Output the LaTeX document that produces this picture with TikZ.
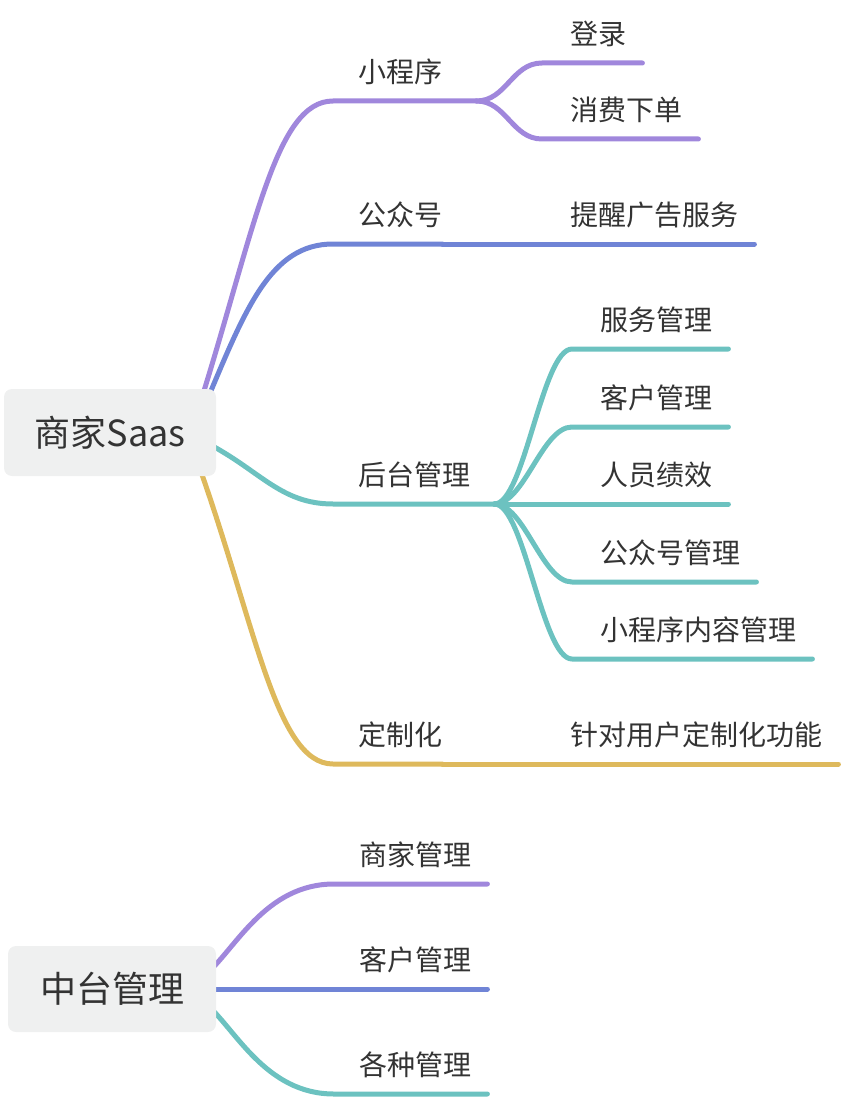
\documentclass[tikz,border=0pt]{standalone}
\usepackage{fontspec}
\setmainfont{Noto Sans CJK SC}
\usetikzlibrary{calc,backgrounds}

\definecolor{lilac}{HTML}{A087DC}
\definecolor{bluish}{HTML}{7084D6}
\definecolor{aqua}{HTML}{6CC2C0}
\definecolor{mustard}{HTML}{DEB95C}
\definecolor{rootgray}{HTML}{EFF0F0}
\definecolor{ink}{HTML}{333333}

\tikzset{
  root/.style={fill=rootgray, rounded corners=8pt, minimum width=212pt, minimum height=87pt, font=\fontsize{36}{36}\selectfont, text=ink},
  topic/.style={anchor=south west, inner xsep=0pt, inner ysep=0pt, text depth=18.4pt, font=\fontsize{28}{28}\selectfont, text=ink},
  branch/.style={line width=5pt, line cap=round},
}

\begin{document}
\begin{tikzpicture}[x=1pt, y=-1pt]
\useasboundingbox (0,0) rectangle (842,1099);

% roots
\node[root] (sjs) at (110,432.5) {商家Saas};
\node[root, minimum width=208pt, minimum height=86pt] (ztgl) at (112,989) {中台管理};

% first level
\node[topic] (xcx) at (358,101) {小程序};
\node[topic] (gzh) at (358,244) {公众号};
\node[topic] (htgl) at (358,504) {后台管理};
\node[topic] (dzh) at (358,764) {定制化};

% second level
\node[topic] (dl) at (570,63) {登录};
\node[topic] (xfxd) at (570,139) {消费下单};
\node[topic] (txgg) at (570,244) {提醒广告服务};
\node[topic] (fwgl) at (600,349) {服务管理};
\node[topic] (khgl) at (600,427) {客户管理};
\node[topic] (ryjx) at (600,504) {人员绩效};
\node[topic] (gzhgl) at (600,582) {公众号管理};
\node[topic] (xcxgl) at (600,659) {小程序内容管理};
\node[topic] (dzgn) at (570,764) {针对用户定制化功能};

% second map
\node[topic] (sjgl) at (359,884) {商家管理};
\node[topic] (khgl2) at (359,989) {客户管理};
\node[topic] (gzgl) at (359,1094) {各种管理};

\coordinate (xcx-fork) at ([xshift=34pt]xcx.south east);
\coordinate (htgl-fork) at ([xshift=24pt]htgl.south east);

\begin{scope}[on background layer]
  % 商家Saas
  \draw[branch, lilac] ($(sjs.center)+(88,-22.5)$) .. controls +(57,-180) and +(-58,0) .. ([xshift=-25pt]xcx.south west) -- (xcx-fork);
  \draw[branch, bluish] ($(sjs.center)+(95,-27.5)$) .. controls +(40,-95) and +(-63,0) .. ([xshift=-25pt]gzh.south west) -- (gzh.south east);
  \draw[branch, aqua] ($(sjs.center)+(95,9.5)$) .. controls +(55,28) and +(-53,0) .. ([xshift=-25pt]htgl.south west) -- (htgl-fork);
  \draw[branch, mustard] ($(sjs.center)+(85,22.5)$) .. controls +(60,165) and +(-58,0) .. ([xshift=-25pt]dzh.south west) -- (dzh.south east);

  \foreach \n in {dl,xfxd}
    \draw[branch, lilac] (xcx-fork) .. controls +(30,0) and +(-30,0) .. ([xshift=-28pt]\n.south west) -- ([xshift=16pt]\n.south east);
  \draw[branch, bluish] (gzh.south east) -- ([xshift=16pt]txgg.south east);
  \foreach \n in {fwgl,khgl,ryjx,gzhgl,xcxgl}
    \draw[branch, aqua] (htgl-fork) .. controls +(30,0) and +(-30,0) .. ([xshift=-28pt]\n.south west) -- ([xshift=16pt]\n.south east);
  \draw[branch, mustard] (dzh.south east) -- ([xshift=16pt]dzgn.south east);

  % 中台管理
  \draw[branch, lilac] ($(ztgl.center)+(93,-14)$) .. controls +(30,-25) and +(-69,0) .. ([xshift=-25pt]sjgl.south west) -- ([xshift=16pt]sjgl.south east);
  \draw[branch, bluish] (ztgl.center) -- ([xshift=16pt]khgl2.south east);
  \draw[branch, aqua] ($(ztgl.center)+(93,14)$) .. controls +(30,25) and +(-69,0) .. ([xshift=-25pt]gzgl.south west) -- ([xshift=16pt]gzgl.south east);
\end{scope}
\end{tikzpicture}
\end{document}
